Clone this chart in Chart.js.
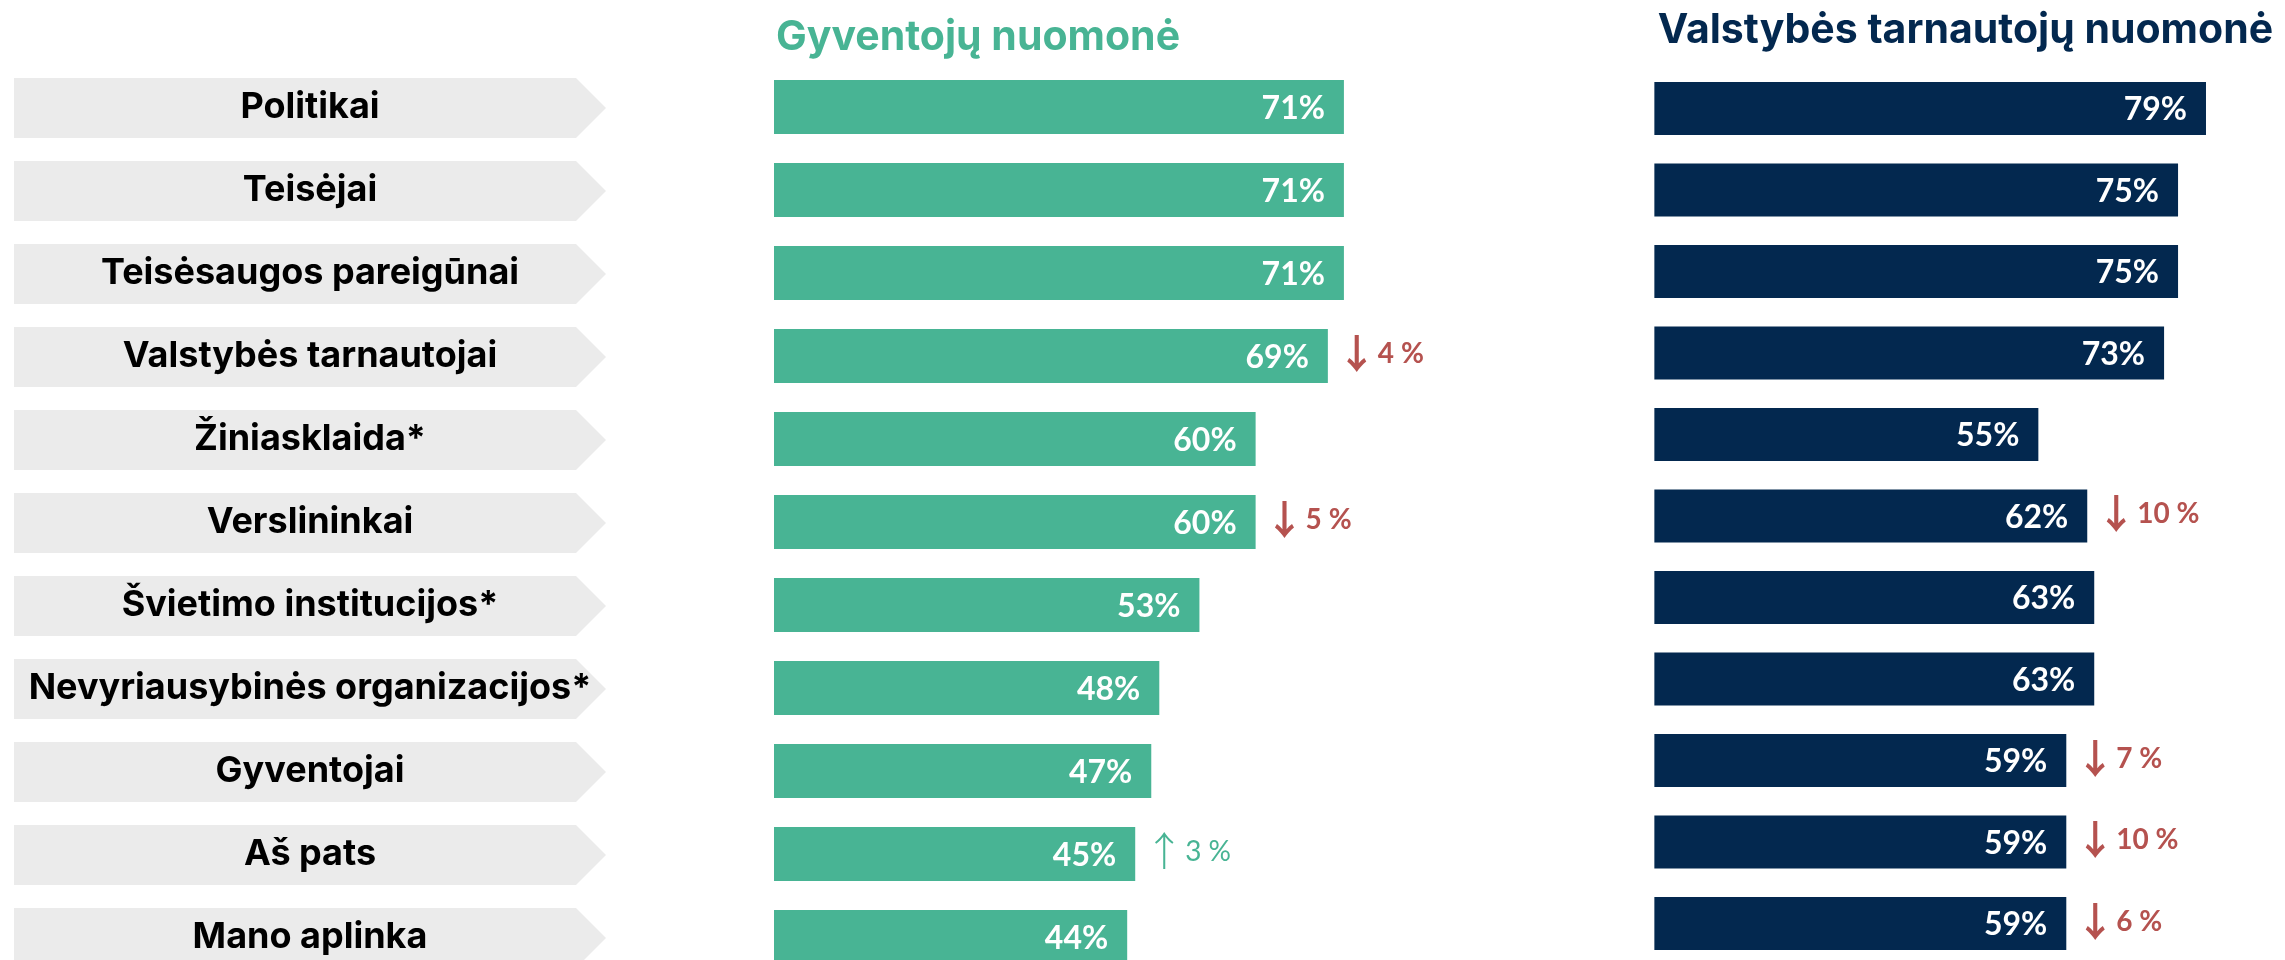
<!DOCTYPE html>
<html>
<head>
<meta charset="utf-8">
<script src="https://cdn.jsdelivr.net/npm/chart.js@4.4.1/dist/chart.umd.min.js"></script>
<style>
  html, body { margin: 0; padding: 0; background: #ffffff; overflow: hidden; }
  #wrap { position: relative; width: 2285px; height: 960px; overflow: hidden; background: #ffffff; }
  canvas { position: absolute; top: 0; }
  #cRes { left: 0; }
  #cSrv { left: 1440px; }
</style>
</head>
<body>
<div id="wrap">
  <canvas id="cRes" width="1440" height="1000"></canvas>
  <canvas id="cSrv" width="845" height="1000"></canvas>
</div>
<script>
// ---- data ----
const categories = [
  'Politikai',
  'Teisėjai',
  'Teisėsaugos pareigūnai',
  'Valstybės tarnautojai',
  'Žiniasklaida*',
  'Verslininkai',
  'Švietimo institucijos*',
  'Nevyriausybinės organizacijos*',
  'Gyventojai',
  'Aš pats',
  'Mano aplinka'
];
const residentsTitle = 'Gyventojų nuomonė';
const servantsTitle = 'Valstybės tarnautojų nuomonė';
const residentsValues = [71, 71, 71, 69, 60, 60, 53, 48, 47, 45, 44];
const servantsValues  = [79, 75, 75, 73, 55, 62, 63, 63, 59, 59, 59];
const residentsChange = [null, null, null, -4, null, -5, null, null, null, 3, null];
const servantsChange  = [null, null, null, null, null, -10, null, null, -7, -10, -6];

// ---- styles ----
const GREEN = '#48B494';
const NAVY = '#03284F';
const RED = '#B5524F';
const LABEL_BOX = { left: 14, right: 576, tip: 606, h: 60, color: '#EBEBEB', textX: 310 };

const rowLabelsPlugin = {
  id: 'rowLabels',
  beforeDatasetsDraw(chart) {
    const { ctx } = chart;
    const y = chart.scales.y;
    ctx.save();
    categories.forEach((label, i) => {
      const cy = y.getPixelForValue(i) + 1;
      const top = cy - LABEL_BOX.h / 2;
      const bot = cy + LABEL_BOX.h / 2;
      ctx.fillStyle = LABEL_BOX.color;
      ctx.beginPath();
      ctx.moveTo(LABEL_BOX.left, top);
      ctx.lineTo(LABEL_BOX.right, top);
      ctx.lineTo(LABEL_BOX.tip, cy);
      ctx.lineTo(LABEL_BOX.right, bot);
      ctx.lineTo(LABEL_BOX.left, bot);
      ctx.closePath();
      ctx.fill();
      ctx.fillStyle = '#000000';
      ctx.font = '700 36px Inter';
      ctx.textAlign = 'center';
      ctx.textBaseline = 'alphabetic';
      ctx.fillText(label, LABEL_BOX.textX, cy + 10.3);
    });
    ctx.restore();
  }
};

const valueLabelsPlugin = {
  id: 'valueLabels',
  afterDatasetsDraw(chart, args, opts) {
    const { ctx } = chart;
    const meta = chart.getDatasetMeta(0);
    const data = chart.data.datasets[0].data;
    ctx.save();
    meta.data.forEach((bar, i) => {
      ctx.font = '700 32px Lato';
      ctx.fillStyle = '#ffffff';
      ctx.textAlign = 'right';
      ctx.textBaseline = 'alphabetic';
      ctx.fillText(data[i] + '%', bar.x - 19, bar.y + 11.5);
      const ch = opts.changes ? opts.changes[i] : null;
      if (ch !== null && ch !== undefined) {
        const up = ch > 0;
        const x0 = bar.x + 17;
        const yc = bar.y - 3;
        ctx.fillStyle = up ? GREEN : RED;
        // arrow glyph
        ctx.font = (up ? '300' : '700') + ' 40px "Noto Sans CJK JP", "DejaVu Sans"';
        ctx.textAlign = 'center';
        ctx.textBaseline = 'middle';
        ctx.fillText(up ? '↑' : '↓', x0 + 12, yc);
        // amount
        ctx.font = (up ? '400' : '700') + ' 28px Lato';
        ctx.textAlign = 'left';
        ctx.textBaseline = 'alphabetic';
        ctx.fillText(Math.abs(ch) + ' %', x0 + 33, yc + 10);
      }
    });
    ctx.restore();
  }
};

const panelTitlePlugin = {
  id: 'panelTitle',
  afterDraw(chart, args, opts) {
    const { ctx, chartArea } = chart;
    ctx.save();
    ctx.font = '700 41px Inter';
    ctx.fillStyle = opts.color;
    ctx.textAlign = 'left';
    ctx.textBaseline = 'alphabetic';
    ctx.fillText(opts.text, chartArea.left + opts.dx, chartArea.top - opts.dy);
    ctx.restore();
  }
};

function makeChart(id, values, color, xMax, padding, changes, title, titleDx, titleDy, withLabels) {
  return new Chart(document.getElementById(id), {
    type: 'bar',
    data: {
      labels: categories,
      datasets: [{
        data: values,
        backgroundColor: color,
        borderWidth: 0,
        barPercentage: 0.65,
        categoryPercentage: 1.0
      }]
    },
    options: {
      indexAxis: 'y',
      responsive: false,
      animation: false,
      events: [],
      layout: { padding: padding },
      scales: {
        x: { type: 'linear', min: 0, max: xMax, display: false },
        y: { type: 'category', display: false, offset: true }
      },
      plugins: {
        legend: { display: false },
        tooltip: { enabled: false },
        valueLabels: { changes: changes },
        panelTitle: { text: title, color: color, dx: titleDx, dy: titleDy }
      }
    },
    plugins: withLabels ? [rowLabelsPlugin, valueLabelsPlugin, panelTitlePlugin] : [valueLabelsPlugin, panelTitlePlugin]
  });
}

makeChart('cRes', residentsValues, GREEN, 80,
  { left: 774, right: 23.84, top: 65.5, bottom: 21.5 },
  residentsChange, residentsTitle, 2, 15.5, true);

makeChart('cSrv', servantsValues, NAVY, 85,
  { left: 214.2, right: 37.1, top: 67.75, bottom: 35.75 },
  servantsChange, servantsTitle, 3.5, 24.75, false);
</script>
</body>
</html>
